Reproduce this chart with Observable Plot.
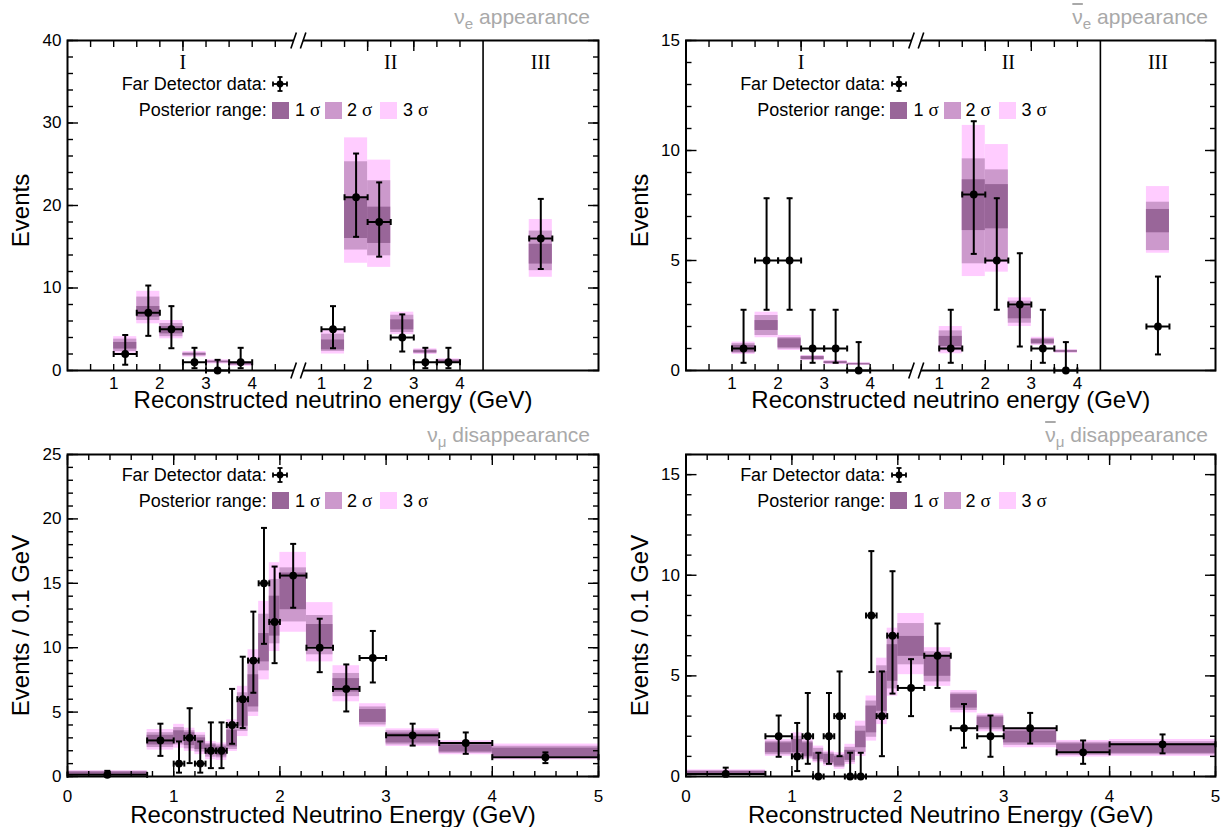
<!DOCTYPE html>
<html>
<head>
<meta charset="utf-8">
<script src="https://cdn.jsdelivr.net/npm/d3@7"></script>
<script src="https://cdn.jsdelivr.net/npm/@observablehq/plot@0.6"></script>
<style>
  html, body { margin: 0; padding: 0; background: #fff; }
  #wrap { position: relative; width: 1225px; height: 827px; overflow: hidden; font-family: "Liberation Sans", Arial, sans-serif; }
  .panel { position: absolute; }
  .panel svg { overflow: visible; }
  .ttl { position: absolute; color: #a9a9a9; font-size: 21px; line-height: 21px; white-space: nowrap; }
  .ttl sub { font-size: 72%; vertical-align: -0.32em; line-height: 0; }
  .ov { text-decoration: overline; text-decoration-thickness: 1.5px; }
  .lg { position: absolute; font-size: 18px; line-height: 18px; white-space: nowrap; color: #000; }
  .sw { position: absolute; width: 17px; height: 17px; }
  .sig { font-family: "Liberation Serif", serif; font-size: 19px; }
</style>
</head>
<body>
<div id="wrap"></div>
<script>
// ===================== DATA =====================
// Appearance samples: I (low PID), II (high PID), III (peripheral, single bin)
const appSample = ["I","I","I","I","I","I","II","II","II","II","II","II","III"];
const appELow  = [1.0,1.5,2.0,2.5,3.0,3.5, 1.0,1.5,2.0,2.5,3.0,3.5, 1.0];
const appEHigh = [1.5,2.0,2.5,3.0,3.5,4.0, 1.5,2.0,2.5,3.0,3.5,4.0, 1.5];
const appTickE = [1, 2, 3, 4];
const appTickLabels = ["1", "2", "3", "4"];
const appSampleNames = ["I", "II", "III"];

// nu_e appearance (top left)
const nueData  = [2, 7, 5, 1, 0, 1,   5, 21, 18, 4, 1, 1,   16];
const nueErrLo = [0.7, 4.2, 2.7, 0.28, 0, 0.28,   2.7, 16.2, 13.8, 2.3, 0.28, 0.28,   12.3];
const nueErrHi = [4.3, 10.3, 7.8, 2.75, 1.29, 2.75,   7.8, 26.3, 22.8, 6.8, 2.75, 2.75,   20.8];
const nue1Lo = [2.6, 6.46, 4.44, 1.85, 0.95, 0.7,   2.5, 16.0, 15.4, 4.93, 2.15, 1.0,   12.9];
const nue1Hi = [3.4, 7.76, 5.33, 2.05, 1.1, 0.85,   3.7, 21.0, 19.8, 6.14, 2.4, 1.25,   15.3];
const nue2Lo = [2.3, 6.06, 4.1, 1.75, 0.9, 0.6,   2.3, 14.6, 13.9, 4.6, 2.05, 0.95,   12.1];
const nue2Hi = [3.8, 8.9, 5.7, 2.15, 1.2, 0.9,   4.4, 25.3, 23.0, 6.7, 2.5, 1.3,   16.9];
const nue3Lo = [2.1, 5.66, 3.84, 1.62, 0.8, 0.52,   2.0, 13.0, 12.5, 4.36, 1.94, 0.88,   11.3];
const nue3Hi = [4.1, 9.6, 6.06, 2.3, 1.3, 1.0,   4.85, 28.2, 25.5, 7.07, 2.63, 1.41,   18.3];

// anti-nu_e appearance (top right)
const anueData  = [1, 5, 5, 1, 1, 0,   1, 8, 5, 3, 1, 0,   2];
const anueErrLo = [0.35, 2.76, 2.76, 0.35, 0.35, 0,   0.35, 5.3, 2.76, 1.09, 0.35, 0,   0.73];
const anueErrHi = [2.76, 7.83, 7.83, 2.76, 2.76, 1.29,   2.76, 11.33, 7.83, 5.33, 2.76, 1.29,   4.27];
const anue1Lo = [0.83, 1.82, 1.03, 0.5, 0.32, 0.26,   1.09, 6.36, 6.44, 2.35, 1.23, 0.83,   6.26];
const anue1Hi = [1.14, 2.27, 1.44, 0.63, 0.4, 0.31,   1.55, 8.67, 8.45, 2.9, 1.4, 0.9,   7.32];
const anue2Lo = [0.78, 1.59, 0.97, 0.48, 0.3, 0.25,   0.9, 4.85, 4.92, 2.15, 1.18, 0.81,   5.45];
const anue2Hi = [1.22, 2.5, 1.5, 0.65, 0.42, 0.33,   1.8, 9.62, 9.12, 3.15, 1.45, 0.92,   7.65];
const anue3Lo = [0.73, 1.49, 0.91, 0.45, 0.27, 0.23,   0.76, 4.27, 4.47, 2.0, 1.14, 0.79,   5.33];
const anue3Hi = [1.29, 2.65, 1.59, 0.68, 0.45, 0.35,   2.0, 11.14, 10.27, 3.3, 1.51, 0.94,   8.36];

// Disappearance binning (GeV)
const numuEdges = [0, 0.75, 1.0, 1.1, 1.2, 1.3, 1.4, 1.5, 1.6, 1.7, 1.8, 1.9, 2.0, 2.25, 2.5, 2.75, 3.0, 3.5, 4.0, 5.0];
const numuTickE = [0, 1, 2, 3, 4, 5];
const numuTickLabels = ["0", "1", "2", "3", "4", "5"];

// nu_mu disappearance (bottom left), events / 0.1 GeV
const numuData  = [0.13, 2.8, 1, 3, 1, 2, 2, 4, 6, 9, 15, 12, 15.6, 10, 6.8, 9.2, 3.2, 2.6, 1.5];
const numuErrLo = [0.02, 1.6, 0.3, 1.04, 0.3, 0.65, 0.65, 2.54, 3.76, 6.5, 10.3, 8.8, 13.1, 8.1, 5.05, 7.3, 2.4, 1.76, 1.04];
const numuErrHi = [0.44, 4.1, 2.72, 5.3, 2.72, 4.2, 4.2, 6.8, 9.3, 12.8, 19.3, 16.3, 18.06, 12.25, 8.7, 11.3, 4.1, 3.42, 1.87];
const numu1Lo = [0.15, 2.45, 2.7, 2.4, 2.1, 1.7, 1.6, 2.3, 3.9, 5.4, 8.9, 10.9, 12.95, 10.1, 6.55, 4.2, 2.6, 1.9, 1.55];
const numu1Hi = [0.35, 3.2, 3.55, 3.4, 3.0, 2.45, 2.3, 3.6, 5.96, 7.9, 11.1, 14.0, 15.8, 11.8, 7.6, 5.2, 3.37, 2.46, 2.2];
const numu2Lo = [0.1, 2.25, 2.45, 2.15, 1.9, 1.5, 1.45, 2.1, 3.5, 5.0, 8.2, 10.3, 12.0, 9.45, 6.2, 4.0, 2.45, 1.8, 1.42];
const numu2Hi = [0.4, 3.4, 3.8, 3.55, 3.2, 2.55, 2.45, 4.0, 6.5, 9.0, 12.6, 15.3, 16.2, 12.5, 8.0, 5.4, 3.55, 2.6, 2.35];
const numu3Lo = [0.05, 2.05, 2.2, 1.95, 1.7, 1.3, 1.25, 1.95, 3.1, 4.66, 7.5, 9.7, 11.2, 8.9, 5.8, 3.84, 2.33, 1.69, 1.3];
const numu3Hi = [0.45, 3.65, 4.05, 3.75, 3.4, 2.7, 2.6, 4.4, 7.0, 9.84, 13.6, 16.6, 17.4, 13.5, 8.6, 5.65, 3.7, 2.77, 2.52];

// anti-nu_mu disappearance (bottom right), events / 0.1 GeV
const anumuData  = [0.13, 2.0, 1, 2, 0, 2, 3, 0, 0, 8, 3, 7, 4.4, 6.0, 2.4, 2.0, 2.4, 1.2, 1.6];
const anumuErrLo = [0.02, 0.98, 0.27, 0.63, 0, 0.63, 1.01, 0, 0, 5.19, 1.01, 4.12, 3.0, 4.4, 1.43, 0.98, 1.64, 0.63, 1.15];
const anumuErrHi = [0.44, 3.03, 2.66, 4.15, 1.18, 4.15, 5.22, 1.18, 1.18, 11.2, 5.22, 10.2, 5.83, 7.6, 3.6, 3.03, 3.16, 1.79, 2.09];
const anumu1Lo = [0.12, 1.18, 1.18, 1.0, 0.85, 0.68, 0.52, 0.8, 1.43, 2.17, 3.24, 4.73, 5.97, 4.98, 3.4, 2.42, 1.67, 1.15, 1.15];
const anumu1Hi = [0.25, 1.67, 1.84, 1.67, 1.18, 1.1, 1.0, 1.3, 2.25, 3.5, 5.22, 6.55, 6.96, 5.97, 4.07, 2.95, 2.25, 1.62, 1.62];
const anumu2Lo = [0.08, 1.08, 1.05, 0.92, 0.76, 0.6, 0.45, 0.7, 1.2, 1.95, 2.9, 4.35, 5.55, 4.7, 3.28, 2.32, 1.55, 1.05, 1.08];
const anumu2Hi = [0.29, 1.75, 2.0, 1.75, 1.4, 1.18, 1.08, 1.45, 2.5, 3.75, 5.5, 7.0, 7.6, 6.2, 4.15, 3.02, 2.32, 1.7, 1.73];
const anumu3Lo = [0.05, 1.0, 0.93, 0.85, 0.68, 0.52, 0.36, 0.6, 1.0, 1.76, 2.58, 3.99, 5.06, 4.48, 3.16, 2.22, 1.43, 0.97, 1.0];
const anumu3Hi = [0.33, 1.84, 2.17, 1.84, 1.51, 1.26, 1.18, 1.6, 2.75, 4.0, 5.88, 7.37, 8.1, 6.4, 4.27, 3.11, 2.42, 1.79, 1.84];

// Text
const appXTitle = "Reconstructed neutrino energy (GeV)";
const disXTitle = "Reconstructed Neutrino Energy (GeV)";
const appYTitle = "Events";
const disYTitle = "Events / 0.1 GeV";
const legDataText = "Far Detector data:";
const legBandText = "Posterior range:";
const sigmaLabels = ["1", "2", "3"];

// ===================== STYLE / HELPERS =====================
const C1 = "#996699", C2 = "#cc99cc", C3 = "#ffccff";
const FONT = '"Liberation Sans", Arial, sans-serif';

// Composite x axis for appearance panels: sample I spans 0-5 GeV, sample II 0.5-4.5 GeV, sample III one bin
const appOffset = {I: 0, II: 4.5, III: 9};
const appPos = (s, e) => appOffset[s] + e;
const appXMax = appPos("III", 2.5);

const hCap = {draw(c) { c.moveTo(-3, 0); c.lineTo(3, 0); }};
const vCap = {draw(c) { c.moveTo(0, -3); c.lineTo(0, 3); }};
const slashes = {draw(c) { c.moveTo(-7.5, 8); c.lineTo(-2, -8); c.moveTo(2, 8); c.lineTo(7.5, -8); }};
const gapBox = {draw(c) { c.rect(-4.5, -3, 9, 6); }};

function appRows(d, lo, hi, a1, b1, a2, b2, a3, b3) {
  return appSample.map((s, i) => ({
    x1: appPos(s, appELow[i]), x2: appPos(s, appEHigh[i]), xc: appPos(s, (appELow[i] + appEHigh[i]) / 2),
    y: d[i], lo: lo[i], hi: hi[i], s1lo: a1[i], s1hi: b1[i], s2lo: a2[i], s2hi: b2[i], s3lo: a3[i], s3hi: b3[i]
  }));
}
function disRows(d, lo, hi, a1, b1, a2, b2, a3, b3) {
  return d.map((v, i) => ({
    x1: numuEdges[i], x2: numuEdges[i + 1], xc: (numuEdges[i] + numuEdges[i + 1]) / 2,
    y: v, lo: lo[i], hi: hi[i], s1lo: a1[i], s1hi: b1[i], s2lo: a2[i], s2hi: b2[i], s3lo: a3[i], s3hi: b3[i]
  }));
}

function tickMarks(o) {
  const m = [];
  const ax = (f, t, anchor, len) => f(t, {anchor, tickSize: -len, fill: "none", label: null, strokeWidth: 1.4, stroke: "black"});
  for (const a of ["left", "right"]) {
    m.push(ax(Plot.axisY, o.yMinor, a, 6), ax(Plot.axisY, o.yMajor, a, 11));
  }
  for (const a of ["bottom", "top"]) {
    m.push(ax(Plot.axisX, o.xMinor, a, o.xMinorLen), ax(Plot.axisX, o.xMajor, a, o.xMajorLen));
  }
  return m;
}

function panel(o) {
  const rows = o.rows;
  const marks = [
    Plot.rect(rows, {x1: "x1", x2: "x2", y1: "s3lo", y2: "s3hi", fill: C3}),
    Plot.rect(rows, {x1: "x1", x2: "x2", y1: "s2lo", y2: "s2hi", fill: C2}),
    Plot.rect(rows, {x1: "x1", x2: "x2", y1: "s1lo", y2: "s1hi", fill: C1}),
    ...tickMarks(o),
    Plot.frame({stroke: "black", strokeWidth: 2}),
    ...(o.extra || []),
    Plot.axisY(o.yMajor, {anchor: "left", tickSize: 0, tickPadding: 6, label: null, fontSize: 17}),
    Plot.axisX(o.xLabelPos, {anchor: "bottom", tickSize: 0, tickPadding: o.xPad, tickFormat: o.xFmt, label: null, fontSize: 17}),
    Plot.ruleY(rows, {y: "y", x1: "x1", x2: "x2", stroke: "black", strokeWidth: 2}),
    Plot.ruleX(rows, {x: "xc", y1: "lo", y2: "hi", stroke: "black", strokeWidth: 2}),
    Plot.dot(rows, {x: "xc", y: "hi", symbol: hCap, stroke: "black", strokeWidth: 2, fill: "none"}),
    Plot.dot(rows.filter(r => r.lo > 0), {x: "xc", y: "lo", symbol: hCap, stroke: "black", strokeWidth: 2, fill: "none"}),
    Plot.dot(rows, {x: "x1", y: "y", symbol: vCap, stroke: "black", strokeWidth: 2, fill: "none"}),
    Plot.dot(rows, {x: "x2", y: "y", symbol: vCap, stroke: "black", strokeWidth: 2, fill: "none"}),
    Plot.dot(rows, {x: "xc", y: "y", r: 3.9, fill: "black", stroke: "none"}),
    Plot.text([o.xTitle], {frameAnchor: "bottom", lineAnchor: "middle", textAnchor: "middle", dy: o.xTitleDy, fontSize: 24}),
    Plot.text([o.yTitle], {frameAnchor: "left", textAnchor: "middle", lineAnchor: "middle", dx: -46, dy: o.yTitleDy || 0, rotate: -90, fontSize: 24})
  ];
  return Plot.plot({
    width: o.width, height: o.height,
    marginLeft: o.ml, marginRight: o.mr, marginTop: o.mt, marginBottom: o.mb,
    x: {domain: o.xDomain}, y: {domain: o.yDomain},
    style: {fontFamily: FONT, fontSize: "17px", background: "transparent", color: "black", overflow: "visible"},
    marks
  });
}

function appPanel(rows, yMax, yMajorStep, yMinorStep, geom) {
  const breakX = appPos("II", 0.5);
  const dividerX = appPos("II", 4.5);
  const xMinor = [...d3.range(0.5, 4.51, 0.5).map(e => appPos("I", e)), ...d3.range(1, 4.01, 0.5).map(e => appPos("II", e))];
  const xMajor = [appPos("I", 2.5), appPos("II", 2), appPos("II", 3)];
  const labelPos = [...appTickE.map(e => appPos("I", e)), ...appTickE.map(e => appPos("II", e))];
  const labelTxt = [...appTickLabels, ...appTickLabels];
  const fmt = d => labelTxt[labelPos.indexOf(d)] ?? "";
  const romanX = {I: appPos("I", 2.5), II: appPos("II", 2.5), III: appPos("III", 1.25)};
  const ends = [0, yMax];
  return panel({
    ...geom, rows,
    xDomain: [0, appXMax], yDomain: [0, yMax],
    yMajor: d3.range(0, yMax + 0.001, yMajorStep), yMinor: d3.range(0, yMax + 0.001, yMinorStep),
    xMinor, xMajor, xMinorLen: 6, xMajorLen: 10,
    xLabelPos: labelPos, xFmt: fmt, xPad: 6,
    xTitle: appXTitle, xTitleDy: 30, yTitle: appYTitle, yTitleDy: 5,
    extra: [
      Plot.ruleX([dividerX], {stroke: "black", strokeWidth: 1.6}),
      Plot.dot(ends, {x: () => breakX, y: d => d, symbol: gapBox, fill: "white", stroke: "none"}),
      Plot.dot(ends, {x: () => breakX, y: d => d, symbol: slashes, fill: "none", stroke: "black", strokeWidth: 1.6}),
      Plot.text(appSampleNames, {x: d => romanX[d], frameAnchor: "top", lineAnchor: "middle", dy: 22, fontFamily: '"Liberation Serif", serif', fontSize: 20})
    ]
  });
}

function disPanel(rows, yMax, geom) {
  return panel({
    ...geom, rows,
    xDomain: [0, 5], yDomain: [0, yMax],
    yMajor: d3.range(0, yMax + 0.001, 5), yMinor: d3.range(0, yMax + 0.001, 1),
    xMinor: d3.range(0, 5.001, 0.2), xMajor: numuTickE, xMinorLen: 5, xMajorLen: 10,
    xLabelPos: numuTickE, xFmt: d => numuTickLabels[numuTickE.indexOf(d)] ?? "", xPad: 13,
    xTitle: disXTitle, xTitleDy: 39, yTitle: disYTitle, yTitleDy: 10
  });
}

// ===================== LAYOUT =====================
const wrap = document.getElementById("wrap");
function addPanel(svg, left, top) {
  const d = document.createElement("div");
  d.className = "panel";
  d.style.left = left + "px"; d.style.top = top + "px";
  d.appendChild(svg);
  wrap.appendChild(d);
}

const gTL = {width: 612, height: 414, ml: 67, mr: 14, mt: 40, mb: 44};
const gTR = {width: 613, height: 414, ml: 73.5, mr: 10, mt: 40, mb: 44};
const gBL = {width: 612, height: 413, ml: 67, mr: 14, mt: 40, mb: 51};
const gBR = {width: 613, height: 413, ml: 73.5, mr: 10, mt: 40, mb: 51};

addPanel(appPanel(appRows(nueData, nueErrLo, nueErrHi, nue1Lo, nue1Hi, nue2Lo, nue2Hi, nue3Lo, nue3Hi), 40, 10, 2, gTL), 0, 0);
addPanel(appPanel(appRows(anueData, anueErrLo, anueErrHi, anue1Lo, anue1Hi, anue2Lo, anue2Hi, anue3Lo, anue3Hi), 15, 5, 1, gTR), 612, 0);
addPanel(disPanel(disRows(numuData, numuErrLo, numuErrHi, numu1Lo, numu1Hi, numu2Lo, numu2Hi, numu3Lo, numu3Hi), 25, gBL), 0, 414);
addPanel(disPanel(disRows(anumuData, anumuErrLo, anumuErrHi, anumu1Lo, anumu1Hi, anumu2Lo, anumu2Hi, anumu3Lo, anumu3Hi), 16, gBR), 612, 414);

// ---- titles ----
function addTitle(html, rightX, top) {
  const d = document.createElement("div");
  d.className = "ttl";
  d.innerHTML = html;
  d.style.right = (1225 - rightX) + "px";
  d.style.top = top + "px";
  wrap.appendChild(d);
}
addTitle('ν<sub>e</sub> appearance', 590, 6);
addTitle('<span class="ov">ν</span><sub>e</sub> appearance', 1208, 6);
addTitle('ν<sub>μ</sub> disappearance', 590, 424);
addTitle('<span class="ov">ν</span><sub>μ</sub> disappearance', 1208, 424);

// ---- legends ----
function addText(txt, cls, x, cy, alignRight) {
  const d = document.createElement("div");
  d.className = "lg";
  d.innerHTML = txt;
  if (alignRight) d.style.right = (1225 - x) + "px"; else d.style.left = x + "px";
  d.style.top = (cy - 9) + "px";
  wrap.appendChild(d);
}
function addLegend(frameLeft, y1, y2) {
  addText(legDataText, "lg", frameLeft + 199.7, y1, true);
  addText(legBandText, "lg", frameLeft + 199.7, y2, true);
  const ns = "http://www.w3.org/2000/svg";
  const s = document.createElementNS(ns, "svg");
  s.setAttribute("width", 20); s.setAttribute("height", 20);
  s.setAttribute("viewBox", "-10 -10 20 20");
  s.style.position = "absolute";
  s.style.left = (frameLeft + 213 - 10) + "px";
  s.style.top = (y1 - 10) + "px";
  s.innerHTML = '<g stroke="#000" stroke-width="1.8"><line x1="-7" x2="7" y1="0" y2="0"/><line x1="0" x2="0" y1="-7" y2="7"/>' +
    '<line x1="-7" x2="-7" y1="-2.5" y2="2.5"/><line x1="7" x2="7" y1="-2.5" y2="2.5"/>' +
    '<line x1="-2.5" x2="2.5" y1="-7" y2="-7"/><line x1="-2.5" x2="2.5" y1="7" y2="7"/></g><circle r="3.4" fill="#000"/>';
  wrap.appendChild(s);
  const sw = [[204.7, C1, 228], [258, C2, 280], [313, C3, 336]];
  sw.forEach(([dx, col, tx], i) => {
    const b = document.createElement("div");
    b.className = "sw";
    b.style.left = (frameLeft + dx) + "px";
    b.style.top = (y2 - 8.5) + "px";
    b.style.background = col;
    wrap.appendChild(b);
    addText(sigmaLabels[i] + ' <span class="sig">σ</span>', "lg", frameLeft + tx, y2, false);
  });
}
addLegend(67, 84, 110);
addLegend(685.5, 84, 110);
addLegend(67, 475, 500.5);
addLegend(685.5, 475, 500.5);
</script>
</body>
</html>
